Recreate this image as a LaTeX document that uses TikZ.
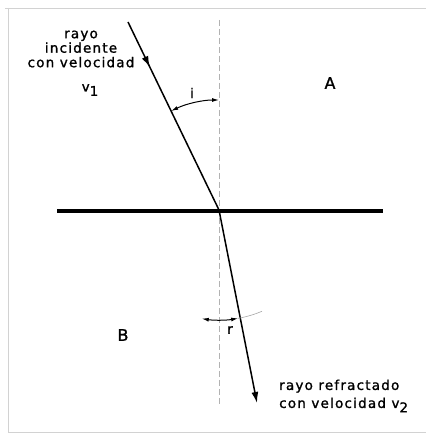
\documentclass[tikz,border=0pt]{standalone}
\usepackage{fontspec}
\setmainfont{DejaVu Sans}[FakeBold=1.3, LetterSpace=9]
\usetikzlibrary{arrows.meta,decorations.markings}
\tikzset{
  ray/.style={line width=1.5pt},
  iface/.style={line width=3.8pt},
  normalline/.style={gray!60, line width=0.7pt, dash pattern=on 6pt off 3pt},
  anglearc/.style={line width=1pt},
  frameline/.style={gray!35, line width=0.8pt},
  lbl/.style={font=\fontsize{13.5}{14.5}\selectfont, inner sep=0pt},
  biglbl/.style={font=\fontsize{16}{17}\selectfont, inner sep=0pt},
  tip/.style={-{Latex[length=11pt,width=7pt]}},
  smalltip/.style={{Latex[length=7pt,width=4pt]}-{Latex[length=7pt,width=4pt]}}
}
\begin{document}
\begin{tikzpicture}[x=1pt,y=1pt]
\useasboundingbox (0,0) rectangle (426,436);
% frame
\coordinate (F1) at (5,428);
\coordinate (F2) at (426,428);
\coordinate (F3) at (8,428);
\coordinate (F4) at (8,4);
\coordinate (F5) at (426,4);
\draw[frameline] (F1) -- (F2);
\draw[frameline] (F3) -- (F4) -- (F5);
% key points
\coordinate (O) at (219,226);
\coordinate (I) at (128,414);
\coordinate (R) at (257,33);
\coordinate (N1) at (219,416);
\coordinate (N2) at (219,31);
\coordinate (L) at (57,225);
\coordinate (Rr) at (383,225);
% normal
\draw[normalline] (N1) -- (N2);
% interface
\draw[iface] (L) -- (Rr);
% incident ray with mid arrow
\draw[ray, postaction={decorate}, decoration={markings, mark=at position 0.24 with {\arrow{Latex[length=11pt,width=7pt]}}}] (I) -- (O);
% refracted ray
\draw[ray, tip] (O) -- (R);
% angle i
\draw[anglearc, smalltip] ([shift={(115.8:110)}]O) arc (115.8:90:110);
% angle r
\draw[anglearc, smalltip] ([shift={(261:110)}]O) arc (261:280:110);
\draw[line width=0.6pt, gray!70] ([shift={(280:110)}]O) arc (280:293:110);
% labels
\node[lbl, align=center] (inc) at (81,387) {rayo\\incidente\\con velocidad};
\node[lbl] (v1) at (90,346) {v\raisebox{-0.6ex}{1}};
\node[biglbl] (A) at (330,353) {A};
\node[biglbl] (B) at (123,101) {B};
\node[lbl] (ilbl) at (192,343) {i};
\node[lbl] (rlbl) at (230,106) {r};
\node[lbl, align=left, anchor=west, font=\fontsize{13.5}{18}\selectfont] (ref) at (279,40) {rayo refractado\\con velocidad v\raisebox{-0.6ex}{2}};
\end{tikzpicture}
\end{document}
